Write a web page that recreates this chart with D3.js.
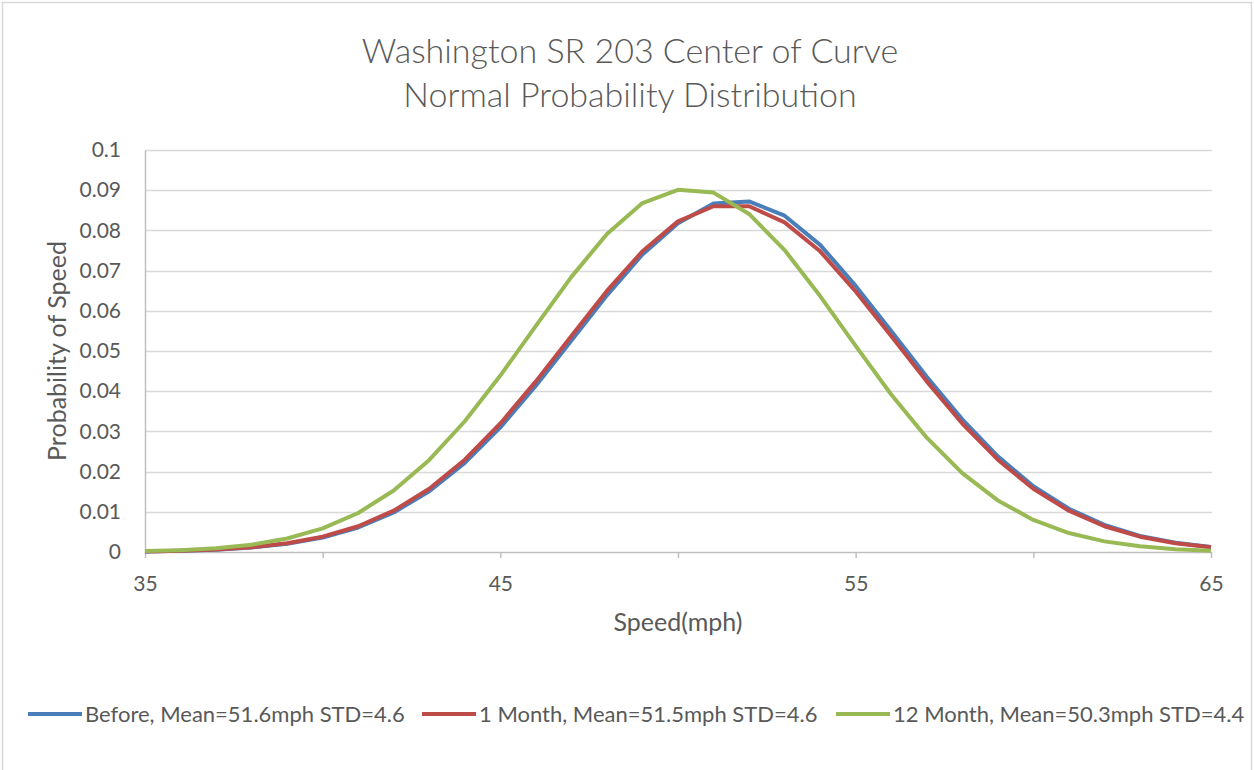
<!DOCTYPE html>
<html>
<head>
<meta charset="utf-8">
<script src="https://cdn.jsdelivr.net/npm/d3@7"></script>
<style>
  html, body { margin: 0; padding: 0; background: #fff; }
  svg { display: block; font-family: Lato, "Open Sans", sans-serif; }
</style>
</head>
<body>
<svg id="chart" width="1254" height="770"></svg>
<script>
// Speed (mph) sampled at every whole number
const speeds = d3.range(35, 66);

// Probability of each speed, per observation period
const before = [0.00013, 0.00028, 0.00056, 0.00110, 0.00204, 0.00361, 0.00610, 0.00983, 0.01511, 0.02215,
  0.03099, 0.04134, 0.05260, 0.06385, 0.07400, 0.08180, 0.08670, 0.08720, 0.08365, 0.07640,
  0.06620, 0.05500, 0.04360, 0.03300, 0.02378, 0.01637, 0.01075, 0.00673, 0.00402, 0.00229, 0.00125];
const month1 = [0.00014, 0.00030, 0.00060, 0.00117, 0.00216, 0.00381, 0.00641, 0.01028, 0.01573, 0.02296,
  0.03196, 0.04244, 0.05375, 0.06494, 0.07482, 0.08224, 0.08600, 0.08600, 0.08200, 0.07480,
  0.06480, 0.05375, 0.04244, 0.03196, 0.02296, 0.01573, 0.01028, 0.00641, 0.00381, 0.00216, 0.00117];
const month12 = [0.00022, 0.00046, 0.00094, 0.00182, 0.00335, 0.00586, 0.00971, 0.01530, 0.02290, 0.03253,
  0.04389, 0.05625, 0.06844, 0.07909, 0.08680, 0.09010, 0.08940, 0.08410, 0.07511, 0.06367,
  0.05126, 0.03918, 0.02844, 0.01961, 0.01284, 0.00798, 0.00471, 0.00264, 0.00141, 0.00071, 0.00034];

const seriesNames = [
  "Before, Mean=51.6mph STD=4.6",
  "1 Month, Mean=51.5mph STD=4.6",
  "12 Month, Mean=50.3mph STD=4.4"
];
const seriesColors = ["#4a7ebb", "#be4b48", "#98b954"];
const seriesValues = [before, month1, month12];

const yTicks = [0, 0.01, 0.02, 0.03, 0.04, 0.05, 0.06, 0.07, 0.08, 0.09, 0.1];
const xTicks = [35, 40, 45, 50, 55, 60, 65];
const xLabels = [35, 45, 55, 65];

const titleLines = ["Washington SR 203 Center of Curve", "Normal Probability Distribution"];
const xTitle = "Speed(mph)";
const yTitle = "Probability of Speed";

const textColor = "#595959";
const svg = d3.select("#chart");

// outer chart frame
svg.append("rect")
  .attr("x", 2.5).attr("y", 2.5)
  .attr("width", 1249).attr("height", 790)
  .attr("fill", "#fff").attr("stroke", "#d9d9d9").attr("stroke-width", 1.5);

const plot = { left: 145, right: 1211, top: 150, bottom: 552 };

const x = d3.scaleLinear().domain([35, 65]).range([plot.left, plot.right]);
const y = d3.scaleLinear().domain([0, 0.1]).range([plot.bottom, plot.top]);

// title
svg.append("g").selectAll("text")
  .data(titleLines)
  .join("text")
  .attr("x", 630)
  .attr("y", (d, i) => 63 + i * 44)
  .attr("text-anchor", "middle")
  .attr("font-size", 34)
  .attr("font-weight", 300)
  .attr("fill", textColor)
  .text(d => d);

// horizontal gridlines
svg.append("g").selectAll("line")
  .data(yTicks.slice(1))
  .join("line")
  .attr("x1", plot.left).attr("x2", plot.right + 1)
  .attr("y1", d => Math.round(y(d)) + 0.5)
  .attr("y2", d => Math.round(y(d)) + 0.5)
  .attr("stroke", "#d9d9d9").attr("stroke-width", 1.5);

// y axis
const yAxis = d3.axisLeft(y)
  .tickValues(yTicks)
  .tickSize(0)
  .tickPadding(24)
  .tickFormat(d => d === 0 ? "0" : d3.format(".2~f")(d));
const gy = svg.append("g")
  .attr("transform", `translate(${plot.left},0)`)
  .call(yAxis);
gy.select(".domain").attr("stroke", "#bfbfbf").attr("stroke-width", 1.5);
gy.selectAll("text")
  .attr("font-family", "Lato, sans-serif")
  .attr("font-size", 21)
  .attr("fill", textColor);

// x axis
const xAxis = d3.axisBottom(x)
  .tickValues(xTicks)
  .tickSize(6)
  .tickSizeOuter(0)
  .tickPadding(18)
  .tickFormat(d => xLabels.includes(d) ? String(d) : "");
const gx = svg.append("g")
  .attr("transform", `translate(0,${plot.bottom})`)
  .call(xAxis);
gx.select(".domain").attr("stroke", "#bfbfbf").attr("stroke-width", 1.5);
gx.selectAll(".tick line").attr("stroke", "#bfbfbf").attr("stroke-width", 1.5);
gx.selectAll("text")
  .attr("font-family", "Lato, sans-serif")
  .attr("font-size", 21)
  .attr("fill", textColor);

// axis titles
svg.append("text")
  .attr("x", 678).attr("y", 631)
  .attr("text-anchor", "middle")
  .attr("font-size", 25)
  .attr("fill", textColor)
  .text(xTitle);

svg.append("text")
  .attr("transform", `translate(66,${(plot.top + plot.bottom) / 2}) rotate(-90)`)
  .attr("text-anchor", "middle")
  .attr("font-size", 25)
  .attr("fill", textColor)
  .text(yTitle);

// series lines
const line = d3.line()
  .x((d, i) => x(speeds[i]))
  .y(d => y(d));

svg.append("g").selectAll("path")
  .data(seriesValues)
  .join("path")
  .attr("d", line)
  .attr("fill", "none")
  .attr("stroke", (d, i) => seriesColors[i])
  .attr("stroke-width", 4)
  .attr("stroke-linejoin", "round");

// legend
const legendX = [28, 422, 836];
const legend = svg.append("g").selectAll("g")
  .data(seriesNames)
  .join("g")
  .attr("transform", (d, i) => `translate(${legendX[i]},714)`);
legend.append("line")
  .attr("x1", 0).attr("x2", 54)
  .attr("stroke", (d, i) => seriesColors[i])
  .attr("stroke-width", 4);
legend.append("text")
  .attr("x", 57).attr("y", 8)
  .attr("font-size", 22)
  .attr("fill", textColor)
  .text(d => d);
</script>
</body>
</html>
